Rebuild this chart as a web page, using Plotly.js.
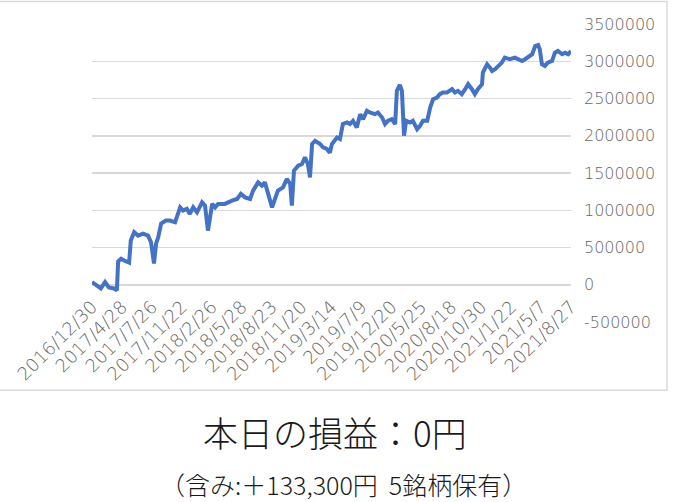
<!DOCTYPE html>
<html>
<head>
<meta charset="utf-8">
<script src="https://cdn.plot.ly/plotly-3.0.1.min.js"></script>
<style>
  html, body { margin: 0; padding: 0; background: #ffffff; }
  #chart { width: 673px; height: 502px; }
</style>
</head>
<body>
<div id="chart"></div>
<script>
// Trading-day index (category position) and cumulative P&L (yen)
const day = [0,14,21,31,40,52,59,62,69,76,88,92,100,109,121,133,140,147,152,157,164,175,185,197,209,216,225,232,240,249,261,268,275,285,292,299,315,332,344,353,363,375,382,394,403,410,417,427,434,441,453,462,470,474,479,489,498,505,512,517,522,529,541,548,557,564,569,581,588,595,605,612,619,628,636,643,652,659,671,678,688,695,702,711,719,723,730,735,740,745,754,761,771,778,785,795,802,809,818,825,832,842,854,861,868,877,885,892,901,908,915,925,927,937,944,949,956,963,972,979,991,1003,1010,1020,1027,1034,1044,1051,1058,1062,1067,1074,1081,1091,1098,1105,1115,1122,1129,1136];
const pnl = [35000,-23000,-50000,35000,-36000,-50000,-76000,312000,350000,325000,298000,593000,705000,660000,687000,660000,570000,285000,553000,637000,821000,861000,861000,838000,1039000,995000,1018000,951000,1039000,972000,1106000,1062000,727000,1085000,1039000,1085000,1085000,1129000,1152000,1219000,1173000,1152000,1263000,1374000,1330000,1374000,1240000,1039000,1152000,1263000,1307000,1420000,1353000,1062000,1531000,1598000,1621000,1709000,1621000,1441000,1889000,1933000,1889000,1843000,1822000,1772000,1889000,1977000,1956000,2157000,2178000,2157000,2201000,2111000,2290000,2223000,2335000,2312000,2290000,2312000,2245000,2157000,2201000,2223000,2157000,2603000,2683000,2603000,2000000,2201000,2178000,2201000,2089000,2134000,2201000,2201000,2379000,2491000,2513000,2558000,2580000,2580000,2625000,2580000,2603000,2558000,2625000,2692000,2625000,2558000,2625000,2692000,2848000,2960000,2915000,2870000,2893000,2937000,2982000,3049000,3027000,3049000,3027000,3004000,3027000,3049000,3094000,3205000,3218000,3161000,2960000,2937000,2982000,3004000,3115000,3138000,3094000,3115000,3094000,3138000];

// Category tick positions and labels
const tickDays = [0,71,142,213,284,355,426,497,568,639,710,781,852,923,994,1065,1136];
const tickLabels = ["2016/12/30","2017/4/28","2017/7/26","2017/11/22","2018/2/26","2018/5/28","2018/8/23","2018/11/20","2019/3/14","2019/7/9","2019/12/20","2020/5/25","2020/8/18","2020/10/30","2021/1/22","2021/5/7","2021/8/27"];

// Value-axis ticks and labels
const yTickVals = [-500000,0,500000,1000000,1500000,2000000,2500000,3000000,3500000];
const yTickText = ["-500000","0","500000","1000000","1500000","2000000","2500000","3000000","3500000"];

const titleMain = "本日の損益：0円";
const titleSub = "（含み:＋133,300円\u00a0\u00a05銘柄保有）";

const CJK = "Noto Sans CJK JP, Noto Sans, sans-serif";
const TICK = "DejaVu Sans, sans-serif";

const trace = {
  x: day,
  y: pnl,
  type: "scatter",
  mode: "lines",
  line: { color: "#4472C4", width: 4, shape: "linear" },
  hoverinfo: "skip"
};

const layout = {
  width: 673,
  height: 502,
  margin: { l: 92, r: 102, t: 24, b: 180.3, pad: 0 },
  paper_bgcolor: "#ffffff",
  plot_bgcolor: "#ffffff",
  showlegend: false,
  font: { family: TICK, color: "#666666", size: 16 },
  xaxis: {
    type: "linear",
    range: [0, 1136],
    tickmode: "array",
    tickvals: tickDays,
    ticktext: tickLabels,
    tickangle: -45,
    showgrid: false,
    zeroline: false,
    showline: false,
    ticks: "",
    anchor: "free",
    position: 0.125,
    ticklabelstandoff: 7,
    tickfont: { family: TICK, size: 18, color: "#666666", weight: 200 },
    fixedrange: true
  },
  yaxis: {
    side: "right",
    range: [-500000, 3500000],
    tickmode: "array",
    tickvals: yTickVals,
    ticktext: yTickText,
    showgrid: true,
    gridcolor: "#d9d9d9",
    gridwidth: 1.5,
    zeroline: false,
    showline: false,
    ticks: "",
    ticklabelstandoff: 12,
    tickfont: { family: TICK, size: 16, color: "#666666", weight: 200 },
    fixedrange: true
  },
  shapes: [{
    type: "rect",
    xref: "paper", yref: "paper",
    x0: -0.194, x1: 1.2004,
    y0: -0.2294, y1: 1.0756,
    line: { color: "#d9d9d9", width: 1.5 },
    fillcolor: "rgba(0,0,0,0)",
    layer: "below"
  }],
  annotations: [
    {
      text: titleMain,
      xref: "paper", yref: "paper",
      x: (335 - 92) / 479, y: (321.7 - 431.5) / 297.7,
      xanchor: "center", yanchor: "middle",
      showarrow: false,
      font: { family: CJK, size: 35, color: "#1a1a1a", weight: 300 }
    },
    {
      text: titleSub,
      xref: "paper", yref: "paper",
      x: (343.5 - 92) / 479, y: (321.7 - 484) / 297.7,
      xanchor: "center", yanchor: "middle",
      showarrow: false,
      font: { family: CJK, size: 25, color: "#1a1a1a", weight: 300 }
    }
  ]
};

Plotly.newPlot("chart", [trace], layout, { displayModeBar: false, staticPlot: true });
</script>
</body>
</html>
